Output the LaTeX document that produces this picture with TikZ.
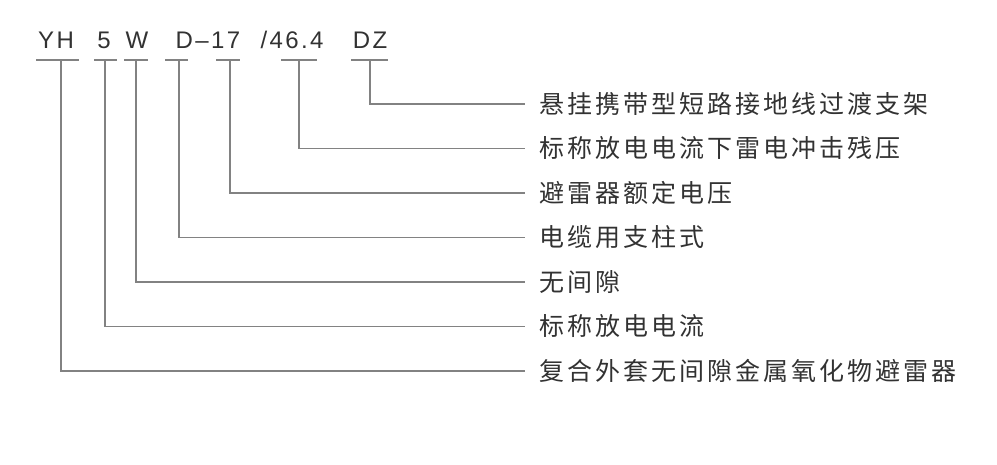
\documentclass[tikz,border=0pt]{standalone}
\usepackage{fontspec}
\usepackage{xcolor}
\usepackage{tikz}
\newfontfamily\codefont{Liberation Sans}[LetterSpace=10]
\newfontfamily\cjk{Noto Sans CJK SC}[LetterSpace=12]
\definecolor{linegray}{RGB}{130,130,130}
\definecolor{textgray}{RGB}{50,50,50}
\tikzset{
  code/.style={anchor=base, inner sep=0pt, text=textgray,
    font=\codefont\fontsize{24}{26}\selectfont},
  meaning/.style={anchor=west, inner xsep=14pt, inner ysep=0pt, text=textgray,
    font=\cjk\fontsize{25}{28}\selectfont},
  bar/.style={draw=linegray, line width=1.3pt},
}

\begin{document}
\begin{tikzpicture}[x=1pt,y=-1pt]
	\useasboundingbox (0,0) rectangle (997,465);

	% model code
	\node[code] (yh) at (56,49) {YH};
	\node[code] (cur) at (104,49) {5};
	\node[code] (gap) at (137,49) {W};
	\node[code] (volt) at (208,49) {D–17};
	\node[code] (res) at (292,49) {/46.4};
	\node[code] (dz) at (370,49) {DZ};

	% underlines, leaders and meanings
	\foreach \xa/\xb/\xv/\y/\name/\txt in {
			351/388/370/104/mdz/悬挂携带型短路接地线过渡支架,
			281/317/299/148.5/mres/标称放电电流下雷电冲击残压,
			216/240/230/193/mvolt/避雷器额定电压,
			165/188/179/237.5/mtype/电缆用支柱式,
			124/148/136/282/mgap/无间隙,
			94/117/105/326.5/mcur/标称放电电流,
			36/79/61/371/myh/复合外套无间隙金属氧化物避雷器}{
		\draw[bar] (\xa,60) -- (\xb,60);
		\coordinate (\name) at (\xv,60);
		\node[meaning] (\name t) at (525,\y) {\txt};
		\draw[bar] (\name) |- (\name t.west);
	}
\end{tikzpicture}
\end{document}
